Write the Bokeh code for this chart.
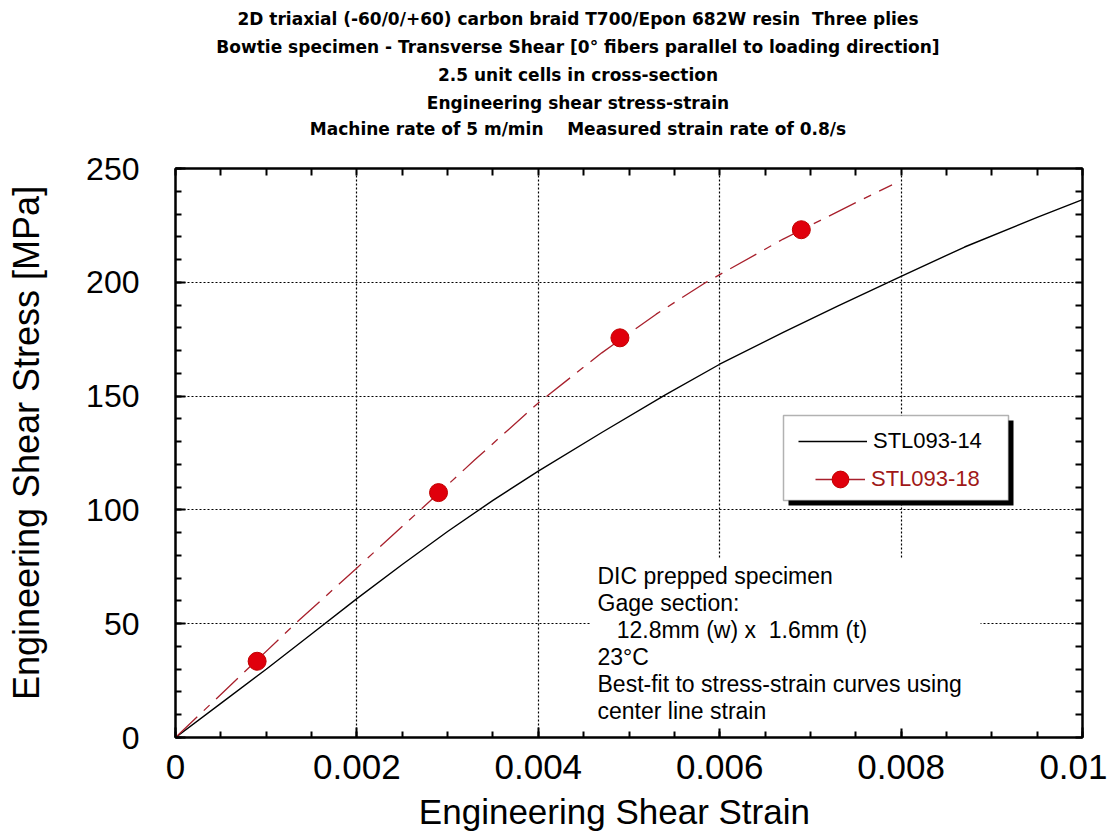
from bokeh.plotting import figure
from bokeh.models import (Range1d, LinearAxis, SingleIntervalTicker, FixedTicker, Legend, LegendItem,
                          BoxAnnotation, Label, Title, CustomJSTickFormatter)
from bokeh.embed import file_html
from bokeh.resources import INLINE

# ---------------- data ----------------
title_lines = [
    "2D triaxial (-60/0/+60) carbon braid T700/Epon 682W resin  Three plies",
    "Bowtie specimen - Transverse Shear [0\u00b0 fibers parallel to loading direction]",
    "2.5 unit cells in cross-section",
    "Engineering shear stress-strain",
    "Machine rate of 5 m/min    Measured strain rate of 0.8/s",
]
note_lines = [
    "DIC prepped specimen",
    "Gage section:",
    "   12.8mm (w) x  1.6mm (t)",
    "23\u00b0C",
    "Best-fit to stress-strain curves using",
    "center line strain",
]
x_label = "Engineering Shear Strain"
y_label = "Engineering Shear Stress [MPa]"
series_names = ["STL093-14", "STL093-18"]

s14_strain = [0, 0.0005, 0.001, 0.0015, 0.002, 0.0025, 0.003, 0.0035, 0.004, 0.0047,
              0.0054, 0.006, 0.0067, 0.0073, 0.008, 0.0087, 0.0095, 0.01]
s14_stress = [0, 15, 30, 45.5, 61, 76, 90.5, 104.2, 117, 134,
              150.5, 164, 178, 189.5, 202.6, 215.5, 228.5, 236.3]

s18_strain = [0, 0.0007, 0.00132, 0.002, 0.0027, 0.0033, 0.004, 0.0047, 0.0053,
              0.00585, 0.0067, 0.0075, 0.0079]
s18_stress = [0, 26.5, 50, 74.5, 100, 122, 147, 169, 186,
              200, 219, 235, 242.8]
s18_mark_strain = [0.0009, 0.0029, 0.0049, 0.0069]
s18_mark_stress = [33.5, 107.6, 175.6, 223.1]

x_tick_interval = 0.002
x_minor_interval = 0.0005
y_tick_interval = 50
y_minor_interval = 10

FONT = "Liberation Sans"
TITLE_FONT = "DejaVu Sans"
RED_LINE = "#a8202c"
RED_MARK = "#e0000c"
NB = "\u00a0"
SHIFT = "\u2003" * 6   # shifts the centred title lines left, as in the reference

p = figure(frame_width=907, frame_height=569,
           x_range=Range1d(0, 0.01), y_range=Range1d(0, 250),
           output_backend="svg", toolbar_location=None, title_location=None,
           min_border_left=175, min_border_top=168, min_border_right=25, min_border_bottom=20,
           background_fill_color="white", border_fill_color="white")
p.outline_line_color = "black"
p.outline_line_width = 2

xt = SingleIntervalTicker(interval=x_tick_interval, num_minor_ticks=4)
yt = SingleIntervalTicker(interval=y_tick_interval, num_minor_ticks=5)
xfmt = CustomJSTickFormatter(code="return String(Number(tick.toFixed(6)));")

xb = p.below[0]
yl = p.left[0]
xb.ticker = xt
yl.ticker = yt
xb.formatter = xfmt

# mirror axes: tick marks only, no tick labels
top_ticks = [i * x_minor_interval for i in range(int(round(0.01 / x_minor_interval)) + 1)]
right_ticks = [i * y_minor_interval for i in range(int(round(250 / y_minor_interval)) + 1)]
xa = LinearAxis(ticker=FixedTicker(ticks=[], minor_ticks=top_ticks))
yr = LinearAxis(ticker=FixedTicker(ticks=[], minor_ticks=right_ticks))
p.add_layout(xa, "above")
p.add_layout(yr, "right")

for ax in [xb, yl, xa, yr]:
    ax.axis_line_width = 2
    ax.axis_line_color = "black"
    ax.major_tick_in = 10
    ax.major_tick_out = 0
    ax.minor_tick_in = 6
    ax.minor_tick_out = 0
    ax.major_tick_line_width = 2
    ax.minor_tick_line_width = 2
    ax.major_label_text_font = FONT
    ax.major_label_text_color = "black"
    ax.axis_label_text_font = FONT
    ax.axis_label_text_font_style = "normal"
    ax.axis_label_text_color = "black"
xa.minor_tick_in = 7
yr.minor_tick_in = 7

# last title line carried by the top mirror axis (gives the gap above the frame)
xa.axis_label = title_lines[-1].replace(" ", NB) + SHIFT
xa.axis_label_text_font = TITLE_FONT
xa.axis_label_text_font_size = "17px"
xa.axis_label_text_font_style = "bold"
xa.axis_label_standoff = 30

xb.axis_label = x_label + NB * 3
xb.axis_label_text_font_size = "35px"
xb.major_label_text_font_size = "35px"
xb.major_label_standoff = 17
xb.axis_label_standoff = 10

yl.axis_label = NB * 2 + y_label
yl.axis_label_text_font_size = "36px"
yl.major_label_text_font_size = "32px"
yl.major_label_standoff = 36
yl.axis_label_standoff = 36

p.grid.grid_line_color = "black"
p.grid.grid_line_dash = "2 2"
p.grid.grid_line_width = 1.2
p.xgrid.ticker = xt
p.ygrid.ticker = yt

# curves
r14 = p.line(s14_strain, s14_stress, line_color="black", line_width=1.4)
p.line(s18_strain, s18_stress, line_color=RED_LINE, line_width=1.3, line_dash="30 9 8 9")
r18m = p.scatter(s18_mark_strain, s18_mark_stress, size=18, marker="circle",
                 fill_color=RED_MARK, line_color="#c00000", line_width=1)
# solid red line used only as the legend sample (hidden on the plot)
r18leg = p.line(s18_strain, s18_stress, line_color=RED_LINE, line_width=1.5, visible=False)

# note background (covers gridlines, as in reference)
p.add_layout(BoxAnnotation(left=415, right=805, bottom=9, top=179,
                           left_units="screen", right_units="screen",
                           bottom_units="screen", top_units="screen",
                           fill_color="white", fill_alpha=1, line_color=None))
note_y = [162, 135, 108, 81, 54, 27]
for txt, yy in zip(note_lines, note_y):
    p.add_layout(Label(x=422, y=yy, x_units="screen", y_units="screen",
                       text=txt.replace(" ", NB),
                       text_font=FONT, text_font_size="23px", text_color="black",
                       text_baseline="middle", text_align="left"))

# legend box + shadow
p.add_layout(BoxAnnotation(left=613, right=838, bottom=232, top=317,
                           left_units="screen", right_units="screen",
                           bottom_units="screen", top_units="screen",
                           fill_color="black", fill_alpha=1, line_color=None))
p.add_layout(BoxAnnotation(left=608, right=833, bottom=237, top=322,
                           left_units="screen", right_units="screen",
                           bottom_units="screen", top_units="screen",
                           fill_color="white", fill_alpha=1, line_color="black", line_width=1.5))

def make_legend(item, loc, gw, gh, color):
    return Legend(items=[item], location=loc, orientation="vertical",
                  glyph_width=gw, glyph_height=gh, label_height=24, label_standoff=6,
                  padding=0, margin=0, spacing=0,
                  background_fill_alpha=0, border_line_color=None,
                  inactive_fill_alpha=0,
                  label_text_font=FONT, label_text_font_size="22px", label_text_color=color)

p.add_layout(make_legend(LegendItem(label=series_names[0], renderers=[r14]), (623, 283), 69, 24, "black"))
p.add_layout(make_legend(LegendItem(label=series_names[1], renderers=[r18leg, r18m]), (640, 237), 50, 42, "#a01818"))

# remaining title lines (stacked above; nearest the frame added first)
for txt in reversed(title_lines[:-1]):
    p.add_layout(Title(text=txt.replace(" ", NB) + SHIFT, align="center",
                       text_font=TITLE_FONT, text_font_size="17px", text_font_style="bold",
                       text_color="black", standoff=6), "above")

open("out.html", "w").write(file_html(p, INLINE))
